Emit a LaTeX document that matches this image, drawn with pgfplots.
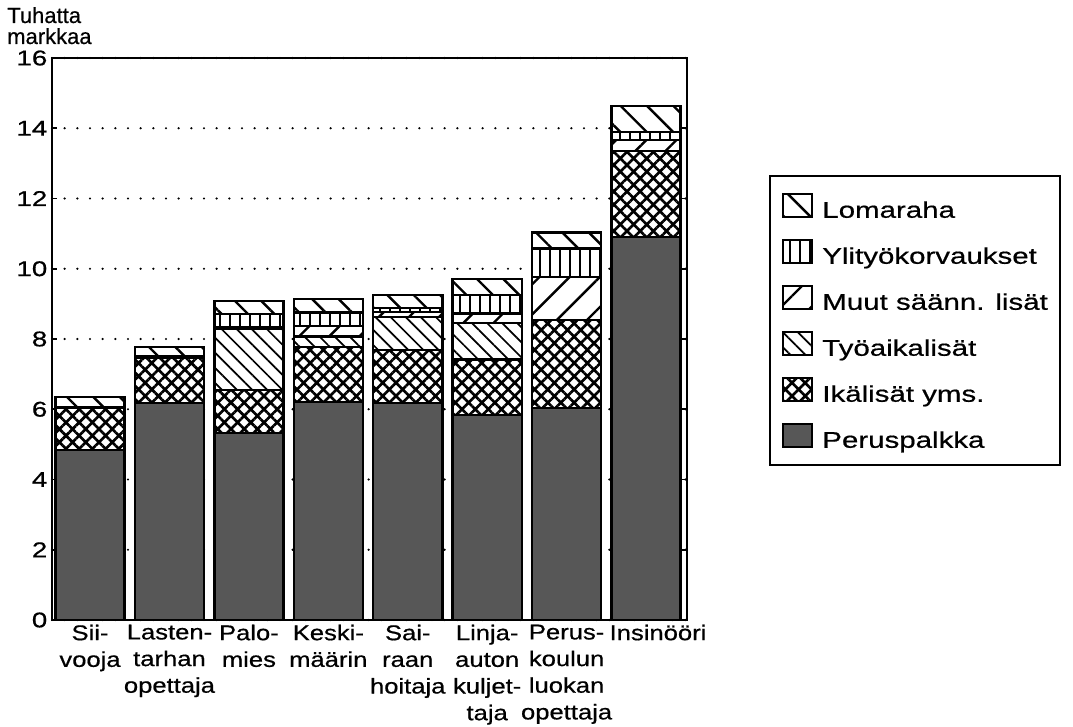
\documentclass[border=0pt]{standalone}
\usepackage{fontspec}
\setmainfont{Liberation Sans}[FakeStretch=1.3,FakeBold=0.6]
\newfontfamily\catfont{Liberation Sans}[FakeStretch=1.2,FakeBold=0.6]
\newfontfamily\titlefont{Liberation Sans}[FakeBold=0.5]
\usepackage{pgfplots}
\usepackage{pgfplotstable}
\pgfplotsset{compat=1.18}
\usetikzlibrary{patterns.meta}

% segments per occupation, bottom to top
\pgfplotstableread{
x  P     I    T    M    Y    L
0  4.84  1.19 0    0.02 0.02 0.28
1  6.18  1.28 0    0.02 0.02 0.27
2  5.32  1.23 1.74 0.05 0.37 0.37
3  6.21  1.57 0.29 0.30 0.38 0.39
4  6.18  1.51 0.94 0.14 0.11 0.37
5  5.84  1.58 1.03 0.28 0.52 0.46
6  6.03  2.51 0    1.23 0.81 0.45
7  10.91 2.44 0    0.32 0.23 0.73
}\data

\begin{document}
\begin{tikzpicture}
  \useasboundingbox (0,0) rectangle (804.75pt,544.5pt);
  \node[font=\titlefont\fontsize{16.5}{18}\selectfont,anchor=base west,inner sep=0pt] at (5.25pt,527.25pt) {Tuhatta};
  \node[font=\titlefont\fontsize{16.5}{18}\selectfont,anchor=base west,inner sep=0pt] at (5.25pt,511.5pt) {markkaa};
  \begin{axis}[
    at={(39pt,79.5pt)},anchor=south west,scale only axis,
    width=476.25pt,height=421.5pt,
    ybar stacked,bar width=0.87,
    xmin=-0.479,xmax=7.516,ymin=0,ymax=16,
    xtick={0,...,7},
    xticklabels={{Sii-\\vooja},{Lasten-\\tarhan\\opettaja},{Palo-\\mies},{Keski-\\määrin},
      {Sai-\\raan\\hoitaja},{Linja-\\auton\\kuljet-\\taja},{Perus-\\koulun\\luokan\\opettaja},{\hspace*{18pt}Insinööri}},
    x tick label style={font=\catfont\fontsize{16}{20}\selectfont,align=center,anchor=north},
    xtick style={draw=none},
    ytick={0,2,...,16},
    y tick label style={font=\fontsize{16}{18}\selectfont},
    /pgf/number format/assume math mode=true,
    tick align=inside,major tick length=4pt,
    tick style={line width=1.2pt,black},
    axis line style={line width=1.5pt},
    ymajorgrids,
    major grid style={line width=1.8pt,dash pattern=on 0pt off 9.5pt,line cap=round,black},
    legend image code/.code={\draw[#1] (0pt,-5.5pt) rectangle (21.5pt,12pt);},
    reverse legend,legend cell align=left,
    legend style={at={(1.129,0.792)},anchor=north west,draw=black,line width=1.5pt,
      font=\fontsize{17}{18}\selectfont,inner xsep=9pt,inner ysep=12.5pt,
      row sep=15.2pt,column sep=7pt,
      nodes={inner sep=0pt,text height=12pt,text depth=0pt,anchor=west}},
  ]
    \addplot[fill=black!66,draw=black,line width=1.8pt] table[x=x,y=P]{\data};
    \addplot[fill=white,draw=black,line width=1.8pt,
      postaction={pattern={Hatch[angle=45,distance=7pt,line width=2pt]}}] table[x=x,y=I]{\data};
    \addplot[fill=white,draw=black,line width=1.8pt,
      postaction={pattern={Lines[angle=-45,distance=8pt,line width=1.3pt]}}] table[x=x,y=T]{\data};
    \addplot[fill=white,draw=black,line width=1.8pt,
      postaction={pattern={Lines[angle=45,distance=16pt,line width=1.8pt]}}] table[x=x,y=M]{\data};
    \addplot[fill=white,draw=black,line width=1.8pt,
      postaction={pattern={Lines[angle=90,distance=7.5pt,line width=1.3pt]}}] table[x=x,y=Y]{\data};
    \addplot[fill=white,draw=black,line width=1.8pt,
      postaction={pattern={Lines[angle=-45,distance=14pt,line width=1.8pt]}}] table[x=x,y=L]{\data};
    \legend{Peruspalkka,Ikälisät yms.,Työaikalisät,Muut säänn. lisät,Ylityökorvaukset,Lomaraha}
  \end{axis}
\end{tikzpicture}
\end{document}
